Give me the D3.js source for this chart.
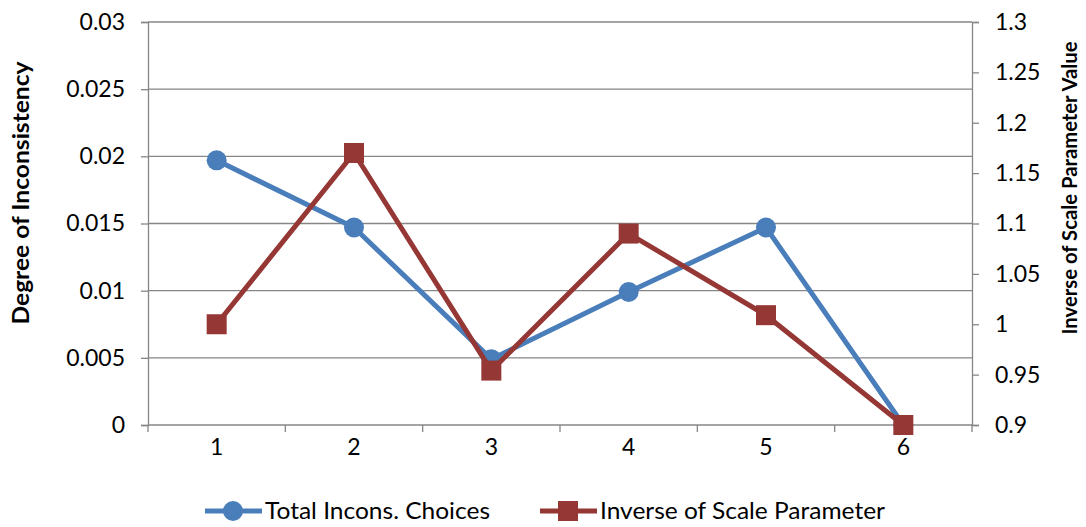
<!DOCTYPE html>
<html lang="en">
<head>
  <meta charset="UTF-8">
  <title>Degree of Inconsistency</title>
  <style>
    body { margin: 0; background: #fff; }
    text { font-family: Lato, "Open Sans", sans-serif; fill: #000; }
  </style>
</head>
<body>
  <svg id="container" height="527" width="1086"></svg>
<script src="https://cdn.jsdelivr.net/npm/d3@7"></script>
<script>
  // data
  let categories = [1, 2, 3, 4, 5, 6]
  let inconsChoices = [0.0197, 0.0147, 0.0049, 0.0099, 0.0147, 0]
  let inverseScale = [1.0, 1.17, 0.954, 1.09, 1.009, 0.9]
  let leftTicks = [0, 0.005, 0.01, 0.015, 0.02, 0.025, 0.03]
  let rightTicks = [0.9, 0.95, 1, 1.05, 1.1, 1.15, 1.2, 1.25, 1.3]
  let seriesNames = ["Total Incons. Choices", "Inverse of Scale Parameter"]

  let blue = "#4a7ebb"
  let red = "#953735"
  let grey = "#868686"

  let svg = d3.select("#container")
  let plotLeft = 148, plotRight = 972, plotTop = 22, plotBottom = 425

  let x = d3.scaleBand().domain(categories).range([plotLeft, plotRight])
  let yL = d3.scaleLinear().domain([0, 0.03]).range([plotBottom, plotTop])
  let yR = d3.scaleLinear().domain([0.9, 1.3]).range([plotBottom, plotTop])

  // gridlines
  svg.append("g").selectAll("line")
     .data(leftTicks.slice(1))
     .enter().append("line")
     .attr("x1", plotLeft).attr("x2", plotRight)
     .attr("y1", d => yL(d)).attr("y2", d => yL(d))
     .attr("stroke", grey).attr("stroke-width", 1.3)

  // left axis
  let axL = svg.append("g").attr("transform", `translate(${plotLeft},0)`)
    .call(d3.axisLeft(yL).tickValues(leftTicks).tickSize(7).tickPadding(16).tickFormat(d => String(+d.toFixed(3))))
  // right axis
  let axR = svg.append("g").attr("transform", `translate(${plotRight},0)`)
    .call(d3.axisRight(yR).tickValues(rightTicks).tickSize(7).tickPadding(16).tickFormat(d => String(+d.toFixed(2))))
  // bottom axis
  let bounds = categories.map(c => x(c)).concat([plotRight])
  let axB = svg.append("g").attr("transform", `translate(0,${plotBottom})`)
    .call(d3.axisBottom(x).tickSize(0).tickPadding(14))
  axB.selectAll(".tickmark").data(bounds).enter().append("line")
     .attr("class", "tickmark")
     .attr("x1", d => d).attr("x2", d => d).attr("y1", 0).attr("y2", 7)
     .attr("stroke", grey).attr("stroke-width", 1.3)

  for (let ax of [axL, axR, axB]) {
    ax.select(".domain").attr("stroke", grey).attr("stroke-width", 1.3)
    ax.selectAll(".tick line").attr("stroke", grey).attr("stroke-width", 1.3)
    ax.selectAll(".tick text").attr("font-size", 23).attr("font-family", "Lato, sans-serif").attr("fill", "#000")
  }
  axB.select(".domain").attr("d", `M${plotLeft},0H${plotRight}`)

  // axis titles
  svg.append("text")
     .attr("transform", "translate(29,193) rotate(-90)")
     .attr("text-anchor", "middle")
     .attr("font-size", 23).attr("font-weight", "bold")
     .attr("textLength", 263).attr("lengthAdjust", "spacingAndGlyphs")
     .text("Degree of Inconsistency")
  svg.append("text")
     .attr("transform", "translate(1077,188) rotate(-90)")
     .attr("text-anchor", "middle")
     .attr("font-size", 21).attr("font-weight", "bold")
     .attr("textLength", 293).attr("lengthAdjust", "spacingAndGlyphs")
     .text("Inverse of Scale Parameter Value")

  // series
  let cx = d => x(d) + x.bandwidth() / 2
  let lineL = d3.line().x((d, i) => cx(categories[i])).y(d => yL(d))
  let lineR = d3.line().x((d, i) => cx(categories[i])).y(d => yR(d))

  svg.append("path").attr("d", lineL(inconsChoices))
     .attr("fill", "none").attr("stroke", blue).attr("stroke-width", 5).attr("stroke-linejoin", "round")
  svg.append("g").selectAll("circle").data(inconsChoices).enter().append("circle")
     .attr("cx", (d, i) => cx(categories[i])).attr("cy", d => yL(d)).attr("r", 10)
     .attr("fill", blue)

  svg.append("path").attr("d", lineR(inverseScale))
     .attr("fill", "none").attr("stroke", red).attr("stroke-width", 5).attr("stroke-linejoin", "round")
  svg.append("g").selectAll("rect").data(inverseScale).enter().append("rect")
     .attr("x", (d, i) => cx(categories[i]) - 10).attr("y", d => yR(d) - 10)
     .attr("width", 20).attr("height", 20)
     .attr("fill", red)

  // legend
  let legend = svg.append("g").attr("transform", "translate(0,511)")
  let items = [
    {name: seriesNames[0], color: blue, shape: "circle", x0: 205, len: 225},
    {name: seriesNames[1], color: red, shape: "rect", x0: 540, len: 285}
  ]
  items.forEach(it => {
    legend.append("line").attr("x1", it.x0).attr("x2", it.x0 + 57)
          .attr("stroke", it.color).attr("stroke-width", 5)
    if (it.shape == "circle")
      legend.append("circle").attr("cx", it.x0 + 28).attr("r", 10).attr("fill", it.color)
    else
      legend.append("rect").attr("x", it.x0 + 18).attr("y", -10).attr("width", 20).attr("height", 20).attr("fill", it.color)
    legend.append("text").attr("x", it.x0 + 60).attr("dy", "0.35em")
          .attr("font-size", 23).attr("textLength", it.len).attr("lengthAdjust", "spacingAndGlyphs")
          .text(it.name)
  })
</script>
</body>
</html>
